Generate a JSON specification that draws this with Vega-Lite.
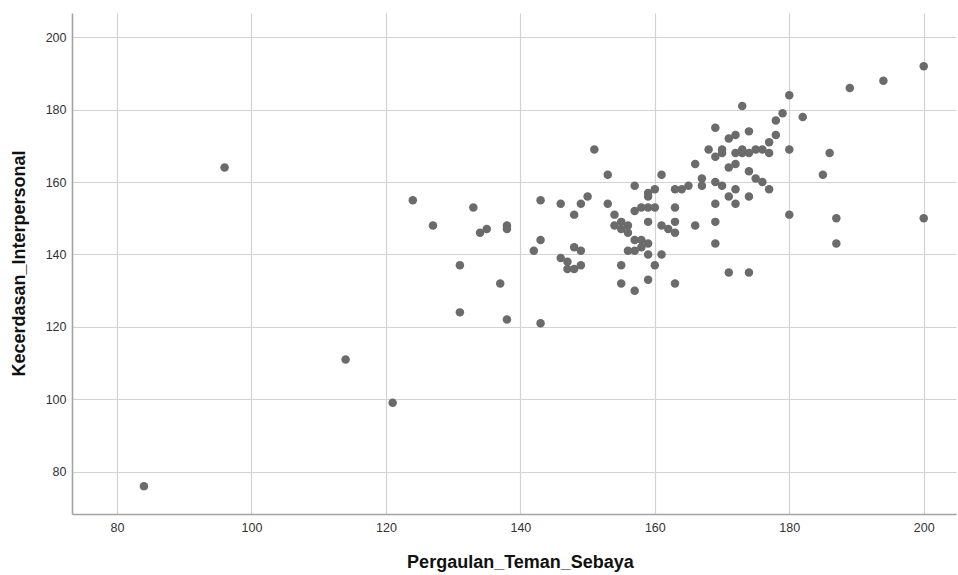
{
  "$schema": "https://vega.github.io/schema/vega-lite/v6.json",
  "width": 884,
  "height": 501,
  "autosize": {"type": "none"},
  "padding": {"left": 72, "top": 13, "right": 2, "bottom": 61},
  "background": "white",
  "config": {
    "view": {"stroke": null},
    "font": "Liberation Sans"
  },
  "data": {
    "values": [
      {"x":84,"y":76},{"x":96,"y":164},{"x":114,"y":111},{"x":121,"y":99},{"x":124,"y":155},
      {"x":127,"y":148},{"x":131,"y":137},{"x":131,"y":124},{"x":133,"y":153},{"x":134,"y":146},
      {"x":135,"y":147},{"x":137,"y":132},{"x":138,"y":148},{"x":138,"y":147},{"x":138,"y":122},
      {"x":142,"y":141},{"x":143,"y":155},{"x":143,"y":144},{"x":143,"y":121},{"x":146,"y":154},
      {"x":146,"y":139},{"x":147,"y":138},{"x":147,"y":136},{"x":148,"y":136},{"x":148,"y":142},
      {"x":149,"y":141},{"x":149,"y":137},{"x":148,"y":151},{"x":149,"y":154},{"x":150,"y":156},
      {"x":151,"y":169},{"x":153,"y":162},{"x":153,"y":154},{"x":154,"y":151},{"x":154,"y":148},
      {"x":155,"y":149},{"x":155,"y":147},{"x":156,"y":148},{"x":156,"y":146},{"x":155,"y":137},
      {"x":155,"y":132},{"x":157,"y":130},{"x":156,"y":141},{"x":157,"y":141},{"x":157,"y":144},
      {"x":158,"y":144},{"x":158,"y":142},{"x":159,"y":143},{"x":157,"y":152},{"x":158,"y":153},
      {"x":159,"y":153},{"x":160,"y":153},{"x":157,"y":159},{"x":159,"y":157},{"x":159,"y":156},
      {"x":160,"y":158},{"x":159,"y":149},{"x":159,"y":140},{"x":161,"y":140},{"x":160,"y":137},
      {"x":159,"y":133},{"x":161,"y":162},{"x":161,"y":148},{"x":162,"y":147},{"x":163,"y":146},
      {"x":163,"y":149},{"x":163,"y":153},{"x":163,"y":158},{"x":163,"y":132},{"x":164,"y":158},
      {"x":165,"y":159},{"x":166,"y":165},{"x":166,"y":148},{"x":167,"y":161},{"x":167,"y":159},
      {"x":168,"y":169},{"x":169,"y":175},{"x":169,"y":167},{"x":169,"y":160},{"x":169,"y":154},
      {"x":169,"y":149},{"x":169,"y":143},{"x":170,"y":169},{"x":170,"y":168},{"x":170,"y":159},
      {"x":171,"y":172},{"x":171,"y":164},{"x":171,"y":156},{"x":171,"y":135},{"x":172,"y":173},
      {"x":172,"y":168},{"x":172,"y":165},{"x":172,"y":158},{"x":172,"y":154},{"x":173,"y":181},
      {"x":173,"y":169},{"x":173,"y":168},{"x":174,"y":174},{"x":174,"y":168},{"x":174,"y":163},
      {"x":174,"y":156},{"x":174,"y":135},{"x":175,"y":169},{"x":175,"y":161},{"x":176,"y":169},
      {"x":176,"y":160},{"x":177,"y":171},{"x":177,"y":168},{"x":177,"y":158},{"x":178,"y":177},
      {"x":178,"y":173},{"x":179,"y":179},{"x":180,"y":184},{"x":180,"y":169},{"x":180,"y":151},
      {"x":182,"y":178},{"x":185,"y":162},{"x":186,"y":168},{"x":187,"y":150},{"x":187,"y":143},
      {"x":189,"y":186},{"x":194,"y":188},{"x":200,"y":192},{"x":200,"y":150}
    ]
  },
  "mark": {"type": "point", "filled": true, "shape": "circle", "size": 72, "color": "#6b6b6b", "opacity": 1},
  "encoding": {
    "x": {
      "field": "x", "type": "quantitative",
      "scale": {"domain": [73.3, 204.8], "nice": false, "zero": false},
      "axis": {
        "title": "Pergaulan_Teman_Sebaya",
        "values": [80, 100, 120, 140, 160, 180, 200],
        "grid": true, "gridColor": "#d2d2d2", "gridWidth": 1.2,
        "ticks": false, "domainColor": "#a3a3a3", "domainWidth": 1.6,
        "labelFontSize": 12.5, "labelColor": "#333333", "labelPadding": 7,
        "titleFontSize": 18, "titleFontWeight": "bold", "titleColor": "#111111",
        "titleX": 448, "titleY": 48, "titleBaseline": "middle", "titleAlign": "center"
      }
    },
    "y": {
      "field": "y", "type": "quantitative",
      "scale": {"domain": [68.3, 206.7], "nice": false, "zero": false},
      "axis": {
        "title": "Kecerdasan_Interpersonal",
        "values": [80, 100, 120, 140, 160, 180, 200],
        "grid": true, "gridColor": "#d2d2d2", "gridWidth": 1.2,
        "ticks": false, "domainColor": "#a3a3a3", "domainWidth": 1.6,
        "labelFontSize": 12.5, "labelColor": "#333333", "labelPadding": 6,
        "titleFontSize": 18, "titleFontWeight": "bold", "titleColor": "#111111",
        "titleX": -53, "titleY": 250, "titleBaseline": "middle", "titleAlign": "center", "titleAngle": -90
      }
    }
  }
}
